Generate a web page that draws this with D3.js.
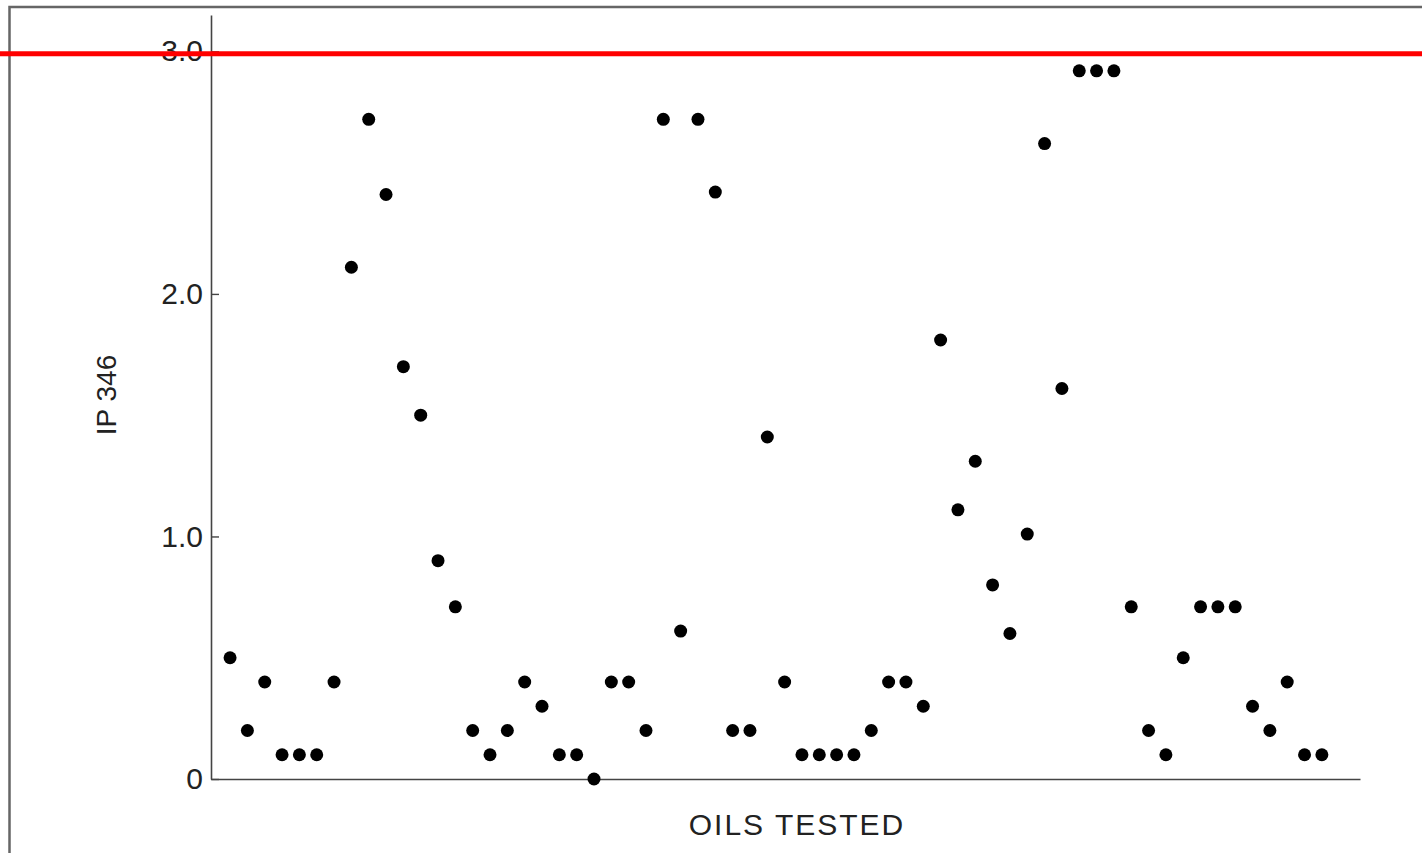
<!DOCTYPE html>
<html>
<head>
<meta charset="utf-8">
<script src="https://cdn.jsdelivr.net/npm/d3@7"></script>
<style>
  body { margin: 0; background: #fff; }
  svg text { font-family: "Liberation Sans", Arial, Helvetica, sans-serif; fill: #222; }
</style>
</head>
<body>
<div id="chart"></div>
<script>
// IP 346 result for each oil tested, left to right
var ipValues = [
  0.5, 0.2, 0.4, 0.1, 0.1, 0.1, 0.4, 2.11, 2.72, 2.41,
  1.7, 1.5, 0.9, 0.71, 0.2, 0.1, 0.2, 0.4, 0.3, 0.1,
  0.1, 0.0, 0.4, 0.4, 0.2, 2.72, 0.61, 2.72, 2.42, 0.2,
  0.2, 1.41, 0.4, 0.1, 0.1, 0.1, 0.1, 0.2, 0.4, 0.4,
  0.3, 1.81, 1.11, 1.31, 0.8, 0.6, 1.01, 2.62, 1.61, 2.92,
  2.92, 2.92, 0.71, 0.2, 0.1, 0.5, 0.71, 0.71, 0.71, 0.3,
  0.2, 0.4, 0.1, 0.1
];
var oilIndex = ipValues.map(function(d, i) { return i + 1; });
var yTicks = [0, 1, 2, 3];
var yTickLabels = ["0", "1.0", "2.0", "3.0"];
var limitValue = 2.99;   // red reference line

var W = 1422, H = 853;

var svg = d3.select("#chart")
  .append("svg")
  .attr("width", W)
  .attr("height", H);

// outer frame (top and left edges visible)
svg.append("path")
  .attr("d", "M9.5," + H + "V7H" + W)
  .attr("fill", "none")
  .attr("stroke", "#666")
  .attr("stroke-width", 2.5);

// scales
var x = d3.scaleLinear()
  .domain([-0.1, 66.2])
  .range([211, 1360]);

var y = d3.scaleLinear()
  .domain([0, 3.15])
  .range([779, 15]);

// x axis, no ticks
var xAxis = svg.append("g")
  .attr("transform", "translate(0," + y(0) + ")")
  .call(d3.axisBottom(x).tickValues([]).tickSizeOuter(0));
xAxis.select(".domain").attr("stroke", "#444").attr("stroke-width", 1.6);

// y axis, ticks pointing inward
var yAxis = svg.append("g")
  .attr("transform", "translate(" + x.range()[0] + ",0)")
  .call(d3.axisLeft(y)
    .tickValues(yTicks)
    .tickFormat(function(d, i) { return yTickLabels[i]; })
    .tickSizeInner(-8)
    .tickSizeOuter(0)
    .tickPadding(8));
yAxis.select(".domain").attr("stroke", "#444").attr("stroke-width", 1.6);
yAxis.selectAll(".tick line").attr("stroke", "#444").attr("stroke-width", 1.4);
yAxis.selectAll(".tick text")
  .style("font-size", "30px")
  .attr("fill", "#222");

// points
svg.append("g")
  .selectAll("circle")
  .data(ipValues)
  .enter()
  .append("circle")
    .attr("cx", function(d, i) { return x(oilIndex[i]); })
    .attr("cy", function(d) { return y(d); })
    .attr("r", 6.5)
    .attr("fill", "#000");

// axis titles
svg.append("text")
  .attr("x", 797)
  .attr("y", 835)
  .attr("text-anchor", "middle")
  .style("font-size", "30px")
  .style("letter-spacing", "2px")
  .text("OILS TESTED");

svg.append("text")
  .attr("transform", "translate(116,395)rotate(-90)")
  .attr("text-anchor", "middle")
  .style("font-size", "28px")
  .text("IP 346");

// red limit line across the whole picture
svg.append("line")
  .attr("x1", 0)
  .attr("x2", W)
  .attr("y1", y(limitValue))
  .attr("y2", y(limitValue))
  .attr("stroke", "#ff0000")
  .attr("stroke-width", 5);
</script>
</body>
</html>
